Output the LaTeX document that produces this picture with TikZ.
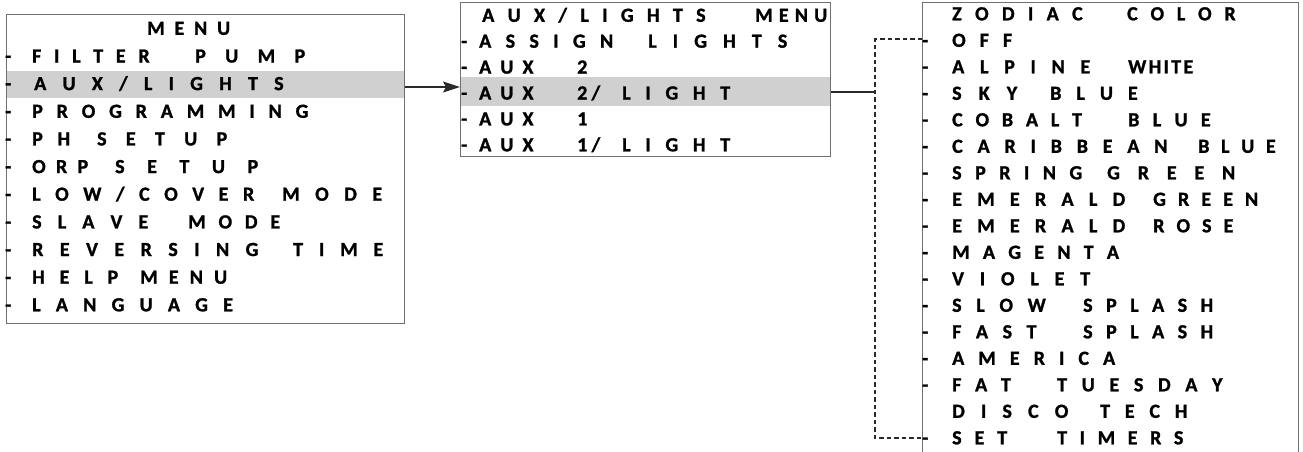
\documentclass[tikz,border=0pt]{standalone}
\usepackage{fontspec}
\setmainfont{Carlito}[UprightFont={* Bold},BoldFont={* Bold},FakeBold=1.3]
\usetikzlibrary{arrows.meta}
\makeatletter
\newcount\tcnt
\newdimen\tdim
\def\tcount#1{\tcnt=0 \tcount@#1\relax}
\def\tcount@#1{\ifx#1\relax\else\advance\tcnt by 1 \expandafter\tcount@\fi}
\def\tset#1{\tset@#1\relax}
\def\tset@#1#2\relax{#1\ifx\relax#2\relax\else\kern\tdim\tset@#2\relax\fi}
\newcommand\tw[2]{\setbox0\hbox{#2}\tcount{#2}\ifnum\tcnt>1 \tdim=\dimexpr(#1pt-\wd0)/(\tcnt-1)\relax\else\tdim=0pt\fi\hbox to #1pt{\tset{#2}\hss}}
\newcommand\dsh[1]{\hbox to #1pt{-\hss}}
\newcommand\gp[1]{\hspace{#1pt}}
\makeatother
\definecolor{boxgray}{HTML}{707070}
\definecolor{hlgray}{HTML}{D0D0D0}
\definecolor{linedark}{HTML}{2A2A2A}
\begin{document}
\begin{tikzpicture}[x=1pt,y=-1pt,
  rowtxt/.style={anchor=base west, inner sep=0pt, yshift=-0.8pt, font=\fontsize{20}{22}\selectfont\bfseries},
  menubox/.style={draw=boxgray, line width=1.3pt, anchor=north west, inner sep=0pt},
  hlband/.style={fill=hlgray, draw=none, anchor=north west, inner sep=0pt},
  conn/.style={draw=linedark, line width=1.2pt},
  dconn/.style={draw=linedark, line width=1.1pt, dash pattern=on 4.5pt off 3pt}]
\useasboundingbox (0,0) rectangle (1303,451);
\clip (0,0) rectangle (1303,451);
% highlight bands
\node[hlband, minimum width=398pt, minimum height=27pt] (hlA) at (6,71) {};
\node[hlband, minimum width=370pt, minimum height=29pt] (hlB) at (460,77) {};
% boxes
\node[menubox, minimum width=398pt, minimum height=309pt] (menuA) at (6,14) {};
\node[menubox, minimum width=370pt, minimum height=154pt] (menuB) at (460,2) {};
\node[menubox, minimum width=376pt, minimum height=480pt] (menuC) at (922,2) {};
% left menu text
\node[rowtxt] (a0) at (147,34) {\tw{83}{MENU}};
\node[rowtxt] (a1) at (5,61.7) {\dsh{27}\tw{116}{FILTER}\gp{47}\tw{110}{PUMP}};
\node[rowtxt] (a2) at (5,89.3) {\dsh{29}\tw{249}{AUX/LIGHTS}};
\node[rowtxt] (a3) at (5,117) {\dsh{27}\tw{276}{PROGRAMMING}};
\node[rowtxt] (a4) at (5,144.6) {\dsh{27}\tw{38}{PH}\gp{27}\tw{130}{SETUP}};
\node[rowtxt] (a5) at (5,172.3) {\dsh{27}\tw{56}{ORP}\gp{27}\tw{143}{SETUP}};
\node[rowtxt] (a6) at (5,199.9) {\dsh{27}\tw{221}{LOW/COVER}\gp{29}\tw{100}{MODE}};
\node[rowtxt] (a7) at (5,227.6) {\dsh{27}\tw{115}{SLAVE}\gp{41}\tw{92}{MODE}};
\node[rowtxt] (a8) at (5,255.2) {\dsh{27}\tw{226}{REVERSING}\gp{35}\tw{90}{TIME}};
\node[rowtxt] (a9) at (5,282.9) {\dsh{27}\tw{86}{HELP}\gp{22}\tw{87}{MENU}};
\node[rowtxt] (a10) at (5,310.5) {\dsh{27}\tw{200}{LANGUAGE}};
% middle menu text
\node[rowtxt] (b0) at (482,21) {\tw{223}{AUX/LIGHTS}\gp{50}\tw{72}{MENU}};
\node[rowtxt] (b1) at (461,46.9) {\dsh{18}\tw{134}{ASSIGN}\gp{35}\tw{139}{LIGHTS}};
\node[rowtxt] (b2) at (461,72.8) {\dsh{18}\tw{54}{AUX}\gp{44}\tw{11}{2}};
\node[rowtxt] (b3) at (461,98.7) {\dsh{18}\tw{54}{AUX}\gp{44}\tw{23}{2/}\gp{22}\tw{108}{LIGHT}};
\node[rowtxt] (b4) at (461,124.6) {\dsh{18}\tw{54}{AUX}\gp{44}\tw{11}{1}};
\node[rowtxt] (b5) at (461,150.5) {\dsh{18}\tw{54}{AUX}\gp{44}\tw{23}{1/}\gp{22}\tw{108}{LIGHT}};
% right menu text
\node[rowtxt] (c0) at (952,19.5) {\tw{130}{ZODIAC}\gp{45}\tw{108}{COLOR}};
\node[rowtxt] (c1) at (922,46) {\dsh{30}\tw{60}{OFF}};
\node[rowtxt] (c2) at (922,72.5) {\dsh{30}\tw{138}{ALPINE}\gp{38}\tw{65}{WHITE}};
\node[rowtxt] (c3) at (922,99) {\dsh{30}\tw{65}{SKY}\gp{33}\tw{87}{BLUE}};
\node[rowtxt] (c4) at (922,125.5) {\dsh{30}\tw{128}{COBALT}\gp{48}\tw{82}{BLUE}};
\node[rowtxt] (c5) at (922,152) {\dsh{30}\tw{215}{CARIBBEAN}\gp{31}\tw{77}{BLUE}};
\node[rowtxt] (c6) at (922,178.5) {\dsh{30}\tw{130}{SPRING}\gp{25}\tw{128}{GREEN}};
\node[rowtxt] (c7) at (922,205) {\dsh{30}\tw{173}{EMERALD}\gp{28}\tw{105}{GREEN}};
\node[rowtxt] (c8) at (922,231.5) {\dsh{30}\tw{173}{EMERALD}\gp{28}\tw{80}{ROSE}};
\node[rowtxt] (c9) at (922,258) {\dsh{30}\tw{165}{MAGENTA}};
\node[rowtxt] (c10) at (922,284.5) {\dsh{30}\tw{138}{VIOLET}};
\node[rowtxt] (c11) at (922,311) {\dsh{30}\tw{93}{SLOW}\gp{38}\tw{130}{SPLASH}};
\node[rowtxt] (c12) at (922,337.5) {\dsh{30}\tw{83}{FAST}\gp{48}\tw{130}{SPLASH}};
\node[rowtxt] (c13) at (922,364) {\dsh{30}\tw{163}{AMERICA}};
\node[rowtxt] (c14) at (922,390.5) {\dsh{30}\tw{56}{FAT}\gp{49}\tw{163}{TUESDAY}};
\node[rowtxt] (c15) at (952,417) {\tw{116}{DISCO}\gp{32}\tw{87}{TECH}};
\node[rowtxt] (c16) at (922,443.5) {\dsh{30}\tw{55}{SET}\gp{50}\tw{126}{TIMERS}};
% connectors
\coordinate (p1) at (404,87);
\coordinate (p2) at (460,87);
\coordinate (q1) at (875,92);
\coordinate (d1) at (875,39);
\coordinate (d2) at (875,438);
\draw[conn, -{Stealth[length=17pt,width=11pt,inset=3pt]}] (menuA.east |- p1) -- (menuB.west |- p2);
\draw[conn] (menuB.east |- q1) -- (q1);
\draw[dconn] (menuC.west |- d1) -- (d1) -- (d2) -- (menuC.west |- d2);
\end{tikzpicture}
\end{document}
